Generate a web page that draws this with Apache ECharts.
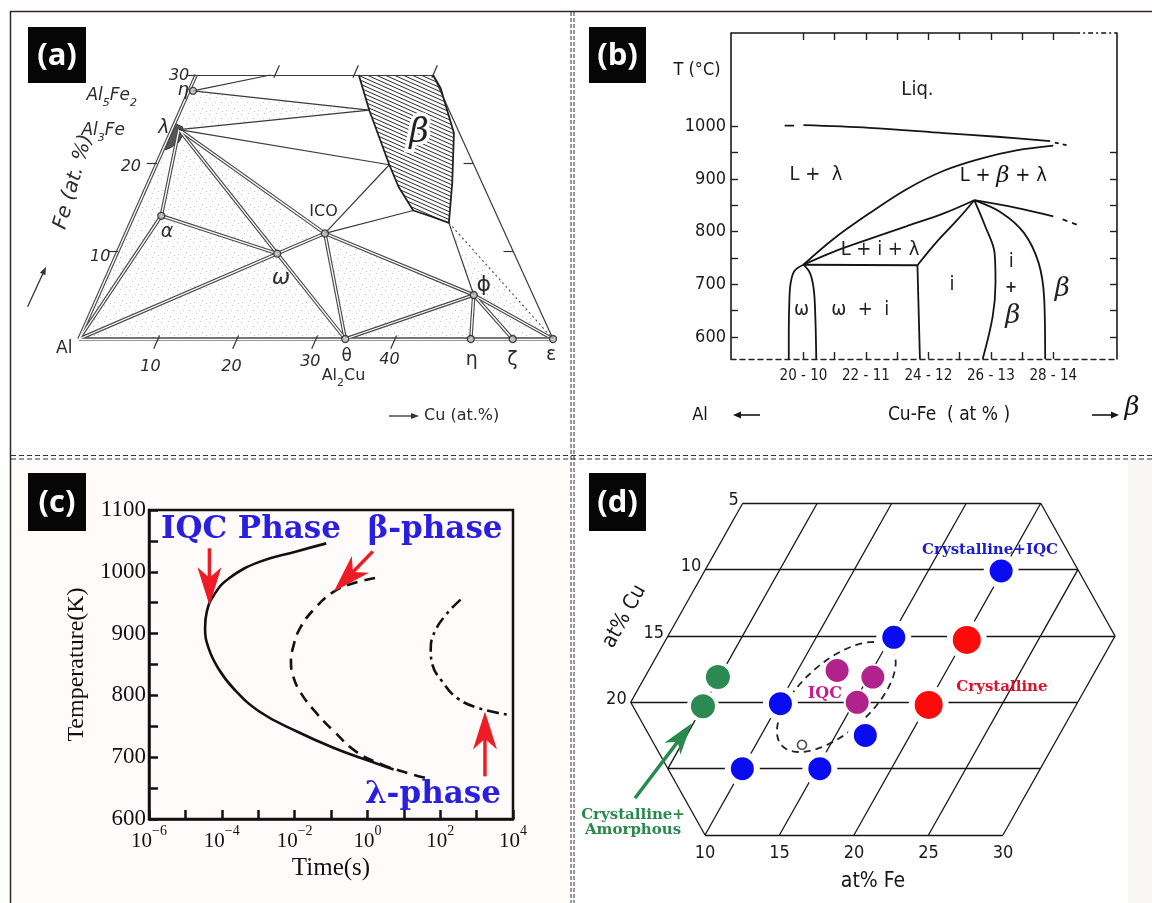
<!DOCTYPE html>
<html>
<head>
<meta charset="utf-8">
<script src="https://cdn.jsdelivr.net/npm/echarts@6.0.0/dist/echarts.min.js"></script>
<style>
html,body{margin:0;padding:0;background:#ffffff;}
#chart{width:1152px;height:903px;}
</style>
</head>
<body>
<div id="chart"></div>
<script>
// ======================= DATA =======================
// ---- Panel (a): Al-Cu-Fe partial section, compositions [Cu at.%, Fe at.%]
const aFrame = {Al:[0,0], feTop:[0,30], cuTop:[30,30], eps:[60,0]};
const aPhase = {eta1:[0.5,28.2], lam:[0.9,23.8], lamLow:[0.4,21.5], alpha:[3.5,14.0], omega:[20.3,9.7],
                ico:[25.2,12.0], theta:[33.7,0], phi:[47.5,5.0], eta2:[49.6,0], zeta:[54.9,0], topMark:[9.4,30]};
const aBetaPts = {B2:[23.9,26.0], B3:[29.5,19.8], B5:[35.1,14.6], B7:[40.3,13.2]};
const aBetaField = [[20.6,30],[23.9,26.0],[29.5,19.8],[31.9,17.3],[35.1,14.6],[37.8,13.9],[40.3,13.2],[38.5,17.7],[35.9,23.4],[31.7,28.5],[30,30]];
const aLambdaField = [[0.0,24.5],[1.2,24.1],[1.7,23.3],[1.6,22.4],[0.8,21.7],[0.3,21.5]];
const aDoubleTies = [['Al','feTop'],['Al','eps'],['Al','alpha'],['alpha','lam'],['lam','omega'],['lam','ico'],
  ['alpha','omega'],['Al','omega'],['omega','ico'],['omega','theta'],['ico','theta'],['ico','phi'],
  ['theta','phi'],['phi','eta2'],['phi','zeta'],['phi','eps']];
const aSingleTies = [['feTop','cuTop'],['cuTop','eps'],['eta1','topMark'],['eta1','B2'],['lam','B2'],['lam','B3'],
  ['ico','B3'],['ico','B5'],['phi','B7']];
const aDottedTies = [['B7','eps']];
const aStippled = [['Al','alpha','omega'],['Al','omega','theta'],['Al','lamLow','alpha'],['lam','alpha','omega'],
  ['lam','omega','ico'],['eta1','B2','lam'],['ico','theta','phi'],['theta','phi','eta2'],['phi','zeta','eps'],['phi','B7','eps']];
const aCuTicks = [10,20,30,40];
const aFeTicks = [10,20,30];
const aTopTicks = [10,20,30];
const aRightTicks = [10,20];
const aMarked = ['eta1','alpha','omega','ico','theta','phi','eta2','zeta','eps'];

// ---- Panel (b): vertical section, x = Cu at.% (Fe = Cu/2), y = T (°C)
const bCuTicks = [20,21,22,23,24,25,26,27,28];
const bCuLabels = [20,22,24,26,28];
const bTTicksLeft = [600,650,700,750,800,850,900,950,1000];
const bTTicksRight = [600,650,700,750,800,850,900,950];
const bTLabels = [600,700,800,900,1000];
const bLiqUpper = [[20.0,1002],[22.1,997],[24.5,987],[26.2,980],[27.9,971.5]];
const bLiqUpperDashL = [[19.4,1001],[19.7,1001.3]];
const bLiqUpperDashR = [[28.05,969],[28.5,963]];
const bLiqLower = [[20.0,737],[20.94,785],[22.12,835],[23.29,880],[24.47,915],[25.65,938],[26.82,954],[28.0,963]];
const bL3Upper = [[20.0,737],[20.94,761],[22.12,786],[23.29,810],[24.47,834],[25.47,859.5]];
const bPeakRight = [[25.47,859.5],[26.82,845],[28.0,829]];
const bPeakRightDash = [[28.3,823],[28.9,810]];
const bPeakLeft = [[25.47,859.5],[24.94,823],[24.24,778.5],[23.65,736]];
const bL3Lower = [[20.0,737],[23.65,736]];
const bIBound = [[23.65,736],[23.73,558]];
const bOmegaLeft = [[20.0,737],[19.71,725],[19.59,702],[19.55,671],[19.53,608],[19.53,558]];
const bOmegaRight = [[20.0,737],[20.21,721],[20.33,690],[20.38,639],[20.41,558]];
const bIBetaLeft = [[25.47,859.5],[25.82,810],[26.12,759.5],[26.15,702.5],[26.06,639],[25.74,558]];
const bIBetaRight = [[25.47,859.5],[26.35,835.4],[27.06,797.5],[27.53,740.5],[27.71,671],[27.74,558]];

// ---- Panel (c): TTT curves, x = log10(time / s), y = T (K)
const cIqcLogT  = [-1.13,-1.95,-2.97,-3.79,-4.21,-4.41,-4.46,-4.36,-4.10,-3.69,-2.97,-1.95,-0.92,0.10,0.72];
const cIqcT     = [1046,1033,1016,990,963,936,909,876,844,812,774,742,715,693,680];
const cBetaLogT = [0.21,-0.41,-0.92,-1.44,-1.85,-2.05,-2.10,-2.05,-1.85,-1.44,-0.92,-0.31,0.41,1.13,1.64];
const cBetaT    = [990,981,968,941,909,876,855,833,806,774,742,709,688,674,666];
const cLamLogT  = [2.56,2.15,1.85,1.74,1.79,2.05,2.46,3.08,3.85];
const cLamT     = [955,930,903,876,849,823,796,779,769];

// ---- Panel (d): composition map, points [Fe at.%, Cu at.%]
const dHexagon = [[0,5],[20,5],[30,15],[30,30],[10,30],[0,20]];
const dCuLevels = [10,15,20,25];
const dFeLevels = [5,10,15,20,25];
const dCuLabels = [5,10,15,20];
const dFeLabels = [10,15,20,25,30];
const dBlue  = [[19.9,10.1],[15.2,15.1],[10.1,20.1],[17.0,22.5],[10.0,25.0],[15.2,25.0]];
const dRed   = [[20.2,15.3],[20.1,20.2]];
const dMag   = [[12.65,17.6],[15.3,18.1],[15.2,20.0]];
const dGreen = [[4.9,18.1],[5.0,20.3]];
const dOpen  = [[13.1,23.2]];
const dIqcRegionCenter = [13.6,19.6];

// ======================= HELPERS =======================
const SANS = '"DejaVu Sans","Liberation Sans",sans-serif';
const NARROW = '"Liberation Sans Narrow","DejaVu Sans Condensed","DejaVu Sans",sans-serif';
const SERIF = '"Liberation Serif","DejaVu Serif",serif';
const BSERIF = '"DejaVu Serif","Liberation Serif",serif';
const deg = Math.PI / 180;

const aXY = p => [p[0] + 0.494 * p[1], p[1]];
const dXY = p => [p[0] + 0.5013 * (30 - p[1]), p[1]];
const idXY = p => p;
const aPt = n => Array.isArray(n) ? n : (aFrame[n] || aPhase[n] || aBetaPts[n]);
const zip = (xs, ys) => xs.map((x, i) => [x, ys[i]]);

function makeHatch() {
  const w = 9, h = 4, c = document.createElement('canvas');
  c.width = w; c.height = h;
  const g = c.getContext('2d');
  g.strokeStyle = '#2a2a2a'; g.lineWidth = 1;
  for (let j = -1; j <= 1; j++) { g.beginPath(); g.moveTo(0, j * h); g.lineTo(w, j * h + h); g.stroke(); }
  return c;
}
function makeStipple() {
  const c = document.createElement('canvas');
  c.width = 16; c.height = 16;
  const g = c.getContext('2d');
  g.fillStyle = 'rgba(90,90,90,0.38)';
  [[1,2],[8,1],[13,6],[4,9],[10,12],[2,14],[14,15],[7,6]].forEach(([x, y]) => g.fillRect(x, y, 1, 1));
  return c;
}
const HATCH = {image: makeHatch(), repeat: 'repeat'};
const STIPPLE = {image: makeStipple(), repeat: 'repeat'};

function linesSeries(xi, yi, data, lineStyle, z) {
  return {type: 'lines', coordinateSystem: 'cartesian2d', xAxisIndex: xi, yAxisIndex: yi, data: data,
    lineStyle: Object.assign({opacity: 1, curveness: 0}, lineStyle), z: z, silent: true, clip: false,
    symbol: 'none', animation: false};
}
function tieData(pairs) { return pairs.map(([p, q]) => ({coords: [aXY(aPt(p)), aXY(aPt(q))]})); }

function polySeries(xi, yi, polys, style, z) {
  return {type: 'custom', xAxisIndex: xi, yAxisIndex: yi, clip: false, silent: true, z: z,
    data: polys.map(p => p[0]),
    renderItem(params, api) {
      const poly = polys[params.dataIndex];
      return {type: 'polygon', shape: {points: poly.map(q => api.coord(q))}, style: style};
    }};
}
function textSeries(xi, yi, items, tf, z) {
  return {type: 'custom', xAxisIndex: xi, yAxisIndex: yi, clip: false, silent: true, z: z || 10,
    data: items.map(it => tf(it.at)),
    renderItem(params, api) {
      const it = items[params.dataIndex];
      const p = api.coord([api.value(0), api.value(1)]);
      const st = {text: it.text, font: it.font, fill: it.color || '#222',
        textAlign: it.align || 'center', textVerticalAlign: it.va || 'middle',
        align: it.align || 'center', verticalAlign: it.va || 'middle'};
      if (it.rich) st.rich = it.rich;
      if (it.stroke) { st.stroke = it.stroke; st.lineWidth = it.sw || 3; }
      return {type: 'text', x: p[0] + (it.dx || 0), y: p[1] + (it.dy || 0), rotation: it.rot || 0, style: st};
    }};
}
function arrowSeries(xi, yi, arrows, tf, z) {
  return {type: 'custom', xAxisIndex: xi, yAxisIndex: yi, clip: false, silent: true, z: z || 12,
    data: arrows.map(a => tf(a.to)),
    renderItem(params, api) {
      const a = arrows[params.dataIndex];
      const p1 = api.coord(tf(a.from)), p2 = api.coord(tf(a.to));
      const dx = p2[0] - p1[0], dy = p2[1] - p1[1], L = Math.hypot(dx, dy);
      const ux = dx / L, uy = dy / L, nx = -uy, ny = ux;
      const bx = p2[0] - ux * a.head, by = p2[1] - uy * a.head;
      const kx = p2[0] - ux * a.head * 0.72, ky = p2[1] - uy * a.head * 0.72;
      return {type: 'group', children: [
        {type: 'line', shape: {x1: p1[0], y1: p1[1], x2: kx, y2: ky}, style: {stroke: a.color, lineWidth: a.width}},
        {type: 'polygon', shape: {points: [p2, [bx + nx * a.headW, by + ny * a.headW], [kx, ky], [bx - nx * a.headW, by - ny * a.headW]]},
          style: {fill: a.color}}
      ]};
    }};
}
function gArrow(x1, y1, x2, y2, color, lw, hl, hw) {
  const dx = x2 - x1, dy = y2 - y1, L = Math.hypot(dx, dy), ux = dx / L, uy = dy / L, nx = -uy, ny = ux;
  const bx = x2 - ux * hl, by = y2 - uy * hl;
  return {type: 'group', children: [
    {type: 'line', shape: {x1: x1, y1: y1, x2: bx + ux * 2, y2: by + uy * 2}, style: {stroke: color, lineWidth: lw}},
    {type: 'polygon', shape: {points: [[x2, y2], [bx + nx * hw, by + ny * hw], [bx - nx * hw, by - ny * hw]]}, style: {fill: color}}
  ]};
}
function gText(x, y, text, font, color, rot, align) {
  return {type: 'text', x: x, y: y, rotation: rot || 0,
    style: {text: text, font: font, fill: color || '#222', textAlign: align || 'center', textVerticalAlign: 'middle',
      align: align || 'center', verticalAlign: 'middle'}};
}
function labelBox(x, y, w, h, t) {
  return {type: 'group', z: 100, children: [
    {type: 'rect', shape: {x: x, y: y, width: w, height: h}, style: {fill: '#060606'}},
    {type: 'text', x: x + w / 2, y: y + h / 2 + 1,
      style: {text: t, fill: '#ffffff', font: 'bold 31px "Open Sans","DejaVu Sans",sans-serif',
        textAlign: 'center', textVerticalAlign: 'middle', align: 'center', verticalAlign: 'middle'}}
  ]};
}

// ======================= SERIES =======================
const series = [];
const INK = '#2b2b2b';

// ---------- (a) ----------
series.push(polySeries(0, 0, aStippled.map(tri => tri.map(n => aXY(aPt(n)))), {fill: STIPPLE, stroke: null}, 1));
series.push(polySeries(0, 0, [aBetaField.map(aXY)], {fill: HATCH, stroke: null}, 2));
series.push(polySeries(0, 0, [aLambdaField.map(aXY)], {fill: '#555', stroke: '#333', lineWidth: 1}, 2));
series.push(linesSeries(0, 0, tieData(aDoubleTies), {color: '#4a4a4a', width: 3.6}, 3));
series.push(linesSeries(0, 0, tieData(aDoubleTies), {color: '#ffffff', width: 1.3}, 4));
series.push(linesSeries(0, 0, tieData(aSingleTies), {color: '#3a3a3a', width: 1.2}, 5));
series.push(linesSeries(0, 0, tieData(aDottedTies), {color: '#555', width: 1.2, type: [2, 3]}, 5));
series.push({type: 'line', xAxisIndex: 0, yAxisIndex: 0, data: aBetaField.map(aXY), showSymbol: false, symbol: 'none',
  lineStyle: {color: '#222', width: 1.8}, z: 6, silent: true, clip: false, animation: false});
// axis tick marks on the frame
const aTickSegs = [].concat(
  aCuTicks.map(c => ({coords: [aXY([c, 0.4]), aXY([c, -1.1])]})),
  aTopTicks.map(c => ({coords: [aXY([c, 29.7]), aXY([c, 31.1])]})),
  aFeTicks.map(f => ({coords: [aXY([0, f]), aXY([-1.3, f])]})),
  aRightTicks.map(f => ({coords: [aXY([60 - f, f]), aXY([60 - f - 1.2, f])]}))
);
series.push(linesSeries(0, 0, aTickSegs, {color: '#333', width: 1.2}, 5));
series.push({type: 'scatter', xAxisIndex: 0, yAxisIndex: 0, data: aMarked.map(n => aXY(aPt(n))), symbol: 'circle', symbolSize: 7,
  itemStyle: {color: '#bdbdbd', borderColor: '#222', borderWidth: 1.3}, z: 7, silent: true, animation: false});
const aFontI = s => 'italic ' + s + 'px ' + SANS;
const aRichSub = {n: {font: aFontI(17), fill: INK, lineHeight: 22, verticalAlign: 'top'},
                  s: {font: aFontI(11), fill: INK, lineHeight: 11, verticalAlign: 'bottom'}};
const aLabels = [
  {at: [-9.4, 27.4], text: '{n|Al}{s|5}{n|Fe}{s|2}', rich: aRichSub, font: aFontI(17)},
  {at: [-0.8, 28.3], text: 'η', font: aFontI(18), color: INK},
  {at: [-8.5, 23.4], text: '{n|Al}{s|3}{n|Fe}', rich: aRichSub, font: aFontI(17)},
  {at: [-1.1, 24.0], text: 'λ', font: aFontI(19), color: INK},
  {at: [-2.1, 29.9], text: '30', font: aFontI(16), color: INK},
  {at: [-3.1, 19.55], text: '20', font: aFontI(16), color: INK},
  {at: [-1.9, 9.3], text: '10', font: aFontI(16), color: INK},
  {at: [5.1, 12.2], text: 'α', font: aFontI(19), color: INK},
  {at: [22.15, 6.93], text: 'ω', font: aFontI(22), color: INK},
  {at: [23.8, 14.5], text: 'ICO', font: '16px ' + SANS, color: INK},
  {at: [48.2, 6.14], text: 'ϕ', font: '22px ' + SANS, color: INK},
  {at: [31.5, 23.4], text: 'β', font: 'italic 34px ' + BSERIF, color: '#222', stroke: '#ffffff', sw: 7},
  {at: [-1.34, -1.06], text: 'Al', font: '17px ' + SANS, color: INK},
  {at: [10.6, -3.15], text: '10', font: aFontI(16), color: INK},
  {at: [20.85, -3.15], text: '20', font: aFontI(16), color: INK},
  {at: [30.56, -2.58], text: '30', font: aFontI(16), color: INK},
  {at: [40.47, -2.39], text: '40', font: aFontI(16), color: INK},
  {at: [34.9, -2.05], text: 'θ', font: '17px ' + SANS, color: INK},
  {at: [50.9, -2.39], text: 'η', font: '19px ' + SANS, color: INK},
  {at: [56.05, -2.39], text: 'ζ', font: '19px ' + SANS, color: INK},
  {at: [60.65, -1.82], text: 'ε', font: '19px ' + SANS, color: INK},
  {at: [35.67, -4.43], text: '{n|Al}{s|2}{n|Cu}', rich: {n: {font: '16px ' + SANS, fill: INK, lineHeight: 21, verticalAlign: 'top'}, s: {font: '11px ' + SANS, fill: INK, lineHeight: 11, verticalAlign: 'bottom'}}, font: '16px ' + SANS}
];
series.push(textSeries(0, 0, aLabels, aXY, 10));

// ---------- (b) ----------
const bLine = (data, style, smooth) => ({type: 'line', xAxisIndex: 1, yAxisIndex: 1, data: data, showSymbol: false, symbol: 'none',
  smooth: smooth === undefined ? 0.35 : smooth, lineStyle: Object.assign({color: '#151515', width: 1.8}, style), z: 4, silent: true, clip: false, animation: false});
series.push(bLine(bLiqUpper, {}));
series.push(bLine(bLiqUpperDashL, {}, false));
series.push(bLine(bLiqUpperDashR, {type: [4, 4]}, false));
series.push(bLine(bLiqLower, {}));
series.push(bLine(bL3Upper, {}));
series.push(bLine(bPeakRight, {}));
series.push(bLine(bPeakRightDash, {type: [5, 5]}, false));
series.push(bLine(bPeakLeft, {}));
series.push(bLine(bL3Lower, {}, false));
series.push(bLine(bIBound, {}, false));
series.push(bLine(bOmegaLeft, {}));
series.push(bLine(bOmegaRight, {}));
series.push(bLine(bIBetaLeft, {}));
series.push(bLine(bIBetaRight, {}));
// top frame border: solid then dash-dot near the right corner
const bXMin = 17.68, bXMax = 30.04, bYMin = 558, bYMax = 1177;
series.push(bLine([[bXMin, bYMax], [28.7, bYMax]], {width: 1.5}, false));
series.push(bLine([[28.7, bYMax], [bXMax, bYMax]], {width: 1.5, type: [5, 3, 2, 3]}, false));
const bF = s => s + 'px ' + NARROW;
const bRich = {n: {font: bF(20), fill: '#151515'}, g: {font: 'italic 23px ' + BSERIF, fill: '#151515'}};
const bLabels = [
  {at: [23.65, 1070], text: 'Liq.', font: bF(20)},
  {at: [20.4, 908], text: 'L +  λ', font: bF(20)},
  {at: [26.4, 905], text: '{n|L + }{g|β}{n| + λ}', rich: bRich, font: bF(20)},
  {at: [22.45, 766], text: 'L + i + λ', font: bF(20)},
  {at: [19.94, 652], text: 'ω', font: bF(20)},
  {at: [21.82, 652], text: 'ω  +  i', font: bF(20)},
  {at: [24.76, 699], text: 'i', font: bF(20)},
  {at: [26.65, 743], text: 'i', font: bF(20)},
  {at: [26.65, 693], text: '+', font: 'bold ' + bF(16)},
  {at: [26.7, 639], text: 'β', font: 'italic 26px ' + BSERIF},
  {at: [28.29, 690], text: 'β', font: 'italic 26px ' + BSERIF}
];
series.push(textSeries(1, 1, bLabels, idXY, 10));

// ---------- (c) ----------
const cLine = (xs, ys, type) => ({type: 'line', xAxisIndex: 2, yAxisIndex: 2, data: zip(xs, ys), showSymbol: false, symbol: 'none',
  smooth: 0.45, lineStyle: {color: '#111', width: 2.6, type: type}, z: 4, silent: true, animation: false});
series.push(cLine(cIqcLogT, cIqcT, 'solid'));
series.push(cLine(cBetaLogT, cBetaT, [11, 7]));
series.push(cLine(cLamLogT, cLamT, [12, 5, 3, 5]));
const cBlue = '#2a1fe0', cRed = '#ee1c25';
const cFont = 'bold 31px ' + BSERIF;
series.push(textSeries(2, 2, [
  {at: [-3.2, 1068], text: 'IQC Phase', font: cFont, color: cBlue},
  {at: [1.86, 1068], text: 'β-phase', font: cFont, color: cBlue},
  {at: [1.8, 639], text: 'λ-phase', font: cFont, color: cBlue}
], idXY, 10));
series.push(arrowSeries(2, 2, [
  {from: [-4.34, 1038], to: [-4.34, 946], color: cRed, width: 3.5, head: 38, headW: 12},
  {from: [0.15, 1033], to: [-0.92, 968], color: cRed, width: 3.5, head: 38, headW: 12},
  {from: [3.23, 669], to: [3.23, 774], color: cRed, width: 3.5, head: 38, headW: 12}
], idXY, 12));

// ---------- (d) ----------
function dCuLine(c) { const fL = c <= 20 ? 0 : c - 20, fR = c <= 15 ? c + 15 : 30; return [[fL, c], [fR, c]]; }
function dFeLine(f) { const cT = f <= 20 ? 5 : f - 15, cB = f <= 10 ? f + 20 : 30; return [[f, cT], [f, cB]]; }
const dSegs = [].concat(
  dCuLevels.map(c => ({coords: dCuLine(c).map(dXY)})),
  dFeLevels.map(f => ({coords: dFeLine(f).map(dXY)})),
  dHexagon.map((p, i) => ({coords: [dXY(p), dXY(dHexagon[(i + 1) % dHexagon.length])]}))
);
series.push(linesSeries(3, 3, dSegs, {color: '#151515', width: 1.3}, 2));
series.push({type: 'custom', xAxisIndex: 3, yAxisIndex: 3, clip: false, silent: true, z: 3,
  data: [dXY(dIqcRegionCenter)],
  renderItem(params, api) {
    const c = api.coord([api.value(0), api.value(1)]);
    const a = 73, b = 35, th = 41.5 * deg, pts = [];
    for (let i = 0; i <= 90; i++) {
      const t = i / 90 * 2 * Math.PI, ex = a * Math.cos(t), ey = b * Math.sin(t);
      pts.push([c[0] + ex * Math.cos(th) + ey * Math.sin(th), c[1] - ex * Math.sin(th) + ey * Math.cos(th)]);
    }
    return {type: 'polyline', shape: {points: pts}, style: {fill: null, stroke: '#222', lineWidth: 1.8, lineDash: [7, 5]}};
  }});
const dDots = (data, color, size, bw) => ({type: 'scatter', xAxisIndex: 3, yAxisIndex: 3, data: data.map(dXY), symbol: 'circle',
  symbolSize: size, itemStyle: {color: color, borderColor: '#ffffff', borderWidth: bw, opacity: 1}, z: 6, silent: true, animation: false});
series.push(dDots(dBlue, '#0b0bf2', 29, 6));
series.push(dDots(dRed, '#ff0a0a', 34, 6));
series.push(dDots(dMag, '#b0228c', 25, 2));
series.push(dDots(dGreen, '#2a8a52', 28, 4));
series.push({type: 'scatter', xAxisIndex: 3, yAxisIndex: 3, data: dOpen.map(dXY), symbol: 'circle', symbolSize: 9,
  itemStyle: {color: '#fff', borderColor: '#222', borderWidth: 1.6}, z: 6, silent: true, animation: false});
const dNum = '18px ' + NARROW;
const dLabels = [].concat(
  dCuLabels.map(c => ({at: [0, c], text: String(c), font: dNum, align: 'right', dx: -4, dy: -3, color: '#1a1a1a'})),
  dFeLabels.map(f => ({at: [f, 30], text: String(f), font: dNum, dy: 18, color: '#1a1a1a'})),
  [
    {at: [18.36, 8.52], text: 'Crystalline+IQC', font: 'bold 15px ' + BSERIF, color: '#1c1cd0'},
    {at: [12.72, 19.37], text: 'IQC', font: 'bold 16px ' + BSERIF, color: '#c21f8f'},
    {at: [24.34, 18.85], text: 'Crystalline', font: 'bold 15px ' + BSERIF, color: '#e0102a'},
    {at: [4.72, 29.1], text: 'Crystalline+\nAmorphous', font: 'bold 15px ' + BSERIF, color: '#2a8a4e'}
  ]
);
series.push(textSeries(3, 3, dLabels, dXY, 10));
series.push(arrowSeries(3, 3, [
  {from: [3.91, 27.23], to: [4.89, 21.58], color: '#2a8a4e', width: 3.5, head: 32, headW: 10}
], dXY, 12));

// ======================= OPTION =======================
const cTimeLabel = v => {
  if (Math.abs(v % 2) !== 0) return '';
  const e = v === 0 ? '0' : (v < 0 ? '−' + (-v) : String(v));
  return '{b|10}{e|' + e + '}';
};
const option = {
  animation: false,
  backgroundColor: '#ffffff',
  grid: [
    {left: 79, top: 75, width: 474, height: 264},
    {left: 731, top: 33, width: 386, height: 326},
    {left: 149, top: 510, width: 364, height: 309, show: true, borderColor: '#111', borderWidth: 2.5, backgroundColor: 'transparent'},
    {left: 556, top: 503.25, width: 596, height: 331.75}
  ],
  xAxis: [
    {gridIndex: 0, type: 'value', min: 0, max: 60, show: false},
    {gridIndex: 1, type: 'value', min: bXMin, max: bXMax, position: 'bottom',
      axisLine: {show: true, onZero: false, lineStyle: {color: '#222', width: 1.4, type: [5, 4]}},
      axisTick: {show: true, inside: true, length: 7, customValues: bCuTicks, lineStyle: {color: '#222', width: 1.4}},
      axisLabel: {show: true, customValues: bCuLabels, formatter: v => v + ' - ' + (v / 2), fontFamily: NARROW, fontSize: 15, color: '#1a1a1a', margin: 10},
      splitLine: {show: false}},
    {gridIndex: 2, type: 'value', min: -6, max: 4, interval: 1,
      axisLine: {show: true, onZero: false, lineStyle: {color: '#111', width: 2.5}},
      axisTick: {show: true, inside: true, length: 9, lineStyle: {color: '#111', width: 2.5}},
      axisLabel: {show: true, margin: 5, formatter: cTimeLabel,
        rich: {b: {fontFamily: SERIF, fontSize: 21, color: '#111', lineHeight: 28, verticalAlign: 'bottom'},
               e: {fontFamily: SERIF, fontSize: 14, color: '#111', lineHeight: 14, verticalAlign: 'top'}}},
      splitLine: {show: false},
      name: 'Time(s)', nameLocation: 'middle', nameGap: 37, nameTextStyle: {fontFamily: SERIF, fontSize: 25, color: '#111'}},
    {gridIndex: 3, type: 'value', min: 0, max: 40, show: false},
    {gridIndex: 1, type: 'value', min: bXMin, max: bXMax, position: 'top',
      axisLine: {show: false}, axisTick: {show: true, inside: true, length: 7, customValues: bCuTicks, lineStyle: {color: '#222', width: 1.4}},
      axisLabel: {show: false}, splitLine: {show: false}}
  ],
  yAxis: [
    {gridIndex: 0, type: 'value', min: 0, max: 30, show: false},
    {gridIndex: 1, type: 'value', min: bYMin, max: bYMax,
      axisLine: {show: true, onZero: false, lineStyle: {color: '#1a1a1a', width: 1.6}},
      axisTick: {show: true, inside: true, length: 7, customValues: bTTicksLeft, lineStyle: {color: '#222', width: 1.4}},
      axisLabel: {show: true, customValues: bTLabels, formatter: v => String(v), fontFamily: NARROW, fontSize: 18, color: '#1a1a1a', margin: 5},
      splitLine: {show: false}},
    {gridIndex: 2, type: 'value', min: 600, max: 1100, interval: 50,
      axisLine: {show: true, onZero: false, lineStyle: {color: '#111', width: 2.5}},
      axisTick: {show: true, inside: true, length: 9, lineStyle: {color: '#111', width: 2.5}},
      axisLabel: {show: true, margin: 3, formatter: v => (v % 100 === 0 ? String(v) : ''), fontFamily: SERIF, fontSize: 23, color: '#111'},
      splitLine: {show: false},
      name: 'Temperature(K)', nameLocation: 'middle', nameGap: 60, nameRotate: 90,
      nameTextStyle: {fontFamily: SERIF, fontSize: 24, color: '#111'}},
    {gridIndex: 3, type: 'value', min: 5, max: 30, inverse: true, show: false},
    {gridIndex: 1, type: 'value', min: bYMin, max: bYMax, position: 'right',
      axisLine: {show: true, onZero: false, lineStyle: {color: '#1a1a1a', width: 1.6}},
      axisTick: {show: true, inside: true, length: 7, customValues: bTTicksRight, lineStyle: {color: '#222', width: 1.4}},
      axisLabel: {show: false}, splitLine: {show: false}}
  ],
  graphic: [
    {type: 'rect', z: -1, shape: {x: 11, y: 460, width: 560, height: 443}, style: {fill: '#fefbfa'}, silent: true},
    {type: 'rect', z: -1, shape: {x: 1128, y: 460, width: 24, height: 443}, style: {fill: '#f9f7f6'}, silent: true},
    {type: 'line', shape: {x1: 10, y1: 11.5, x2: 1152, y2: 11.5}, style: {stroke: '#3a2626', lineWidth: 1.5}},
    {type: 'line', shape: {x1: 10.5, y1: 11, x2: 10.5, y2: 903}, style: {stroke: '#2a2a2a', lineWidth: 1.5}},
    {type: 'line', shape: {x1: 571, y1: 12, x2: 571, y2: 903}, style: {stroke: '#333', lineWidth: 1, lineDash: [4, 2]}},
    {type: 'line', shape: {x1: 574, y1: 12, x2: 574, y2: 903}, style: {stroke: '#333', lineWidth: 1, lineDash: [4, 2]}},
    {type: 'line', shape: {x1: 11, y1: 455.5, x2: 1152, y2: 455.5}, style: {stroke: '#333', lineWidth: 1, lineDash: [5, 3]}},
    {type: 'line', shape: {x1: 11, y1: 459, x2: 1152, y2: 459}, style: {stroke: '#333', lineWidth: 1, lineDash: [5, 3]}},
    labelBox(28, 27, 58, 56, '(a)'),
    labelBox(589, 27, 57, 56, '(b)'),
    labelBox(28, 473, 58, 58, '(c)'),
    labelBox(589, 473, 57, 58, '(d)'),
    // (a) axis titles
    gText(73.5, 182, 'Fe (at. %)', 'italic 20px ' + SANS, INK, 74 * deg),
    gArrow(27.6, 306.7, 46, 266.7, '#333', 1.3, 8, 3),
    gArrow(389, 416, 419, 416, '#333', 1.3, 8, 3),
    gText(424, 416, 'Cu (at.%)', '16px ' + SANS, INK, 0, 'left'),
    // (b) axis titles
    gText(697, 70, 'T (°C)', '18px ' + NARROW, '#151515'),
    gText(700, 415, 'Al', '18px ' + NARROW, '#151515'),
    gArrow(760, 415, 733, 415, '#151515', 1.6, 8, 3.5),
    gText(949, 415, 'Cu-Fe  ( at % )', '19px ' + NARROW, '#151515'),
    gArrow(1092, 415, 1119, 415, '#151515', 1.6, 8, 3.5),
    gText(1132, 408, 'β', 'italic 26px ' + BSERIF, '#151515'),
    // (d) axis titles
    gText(624.6, 616.5, 'at% Cu', '21px ' + NARROW, '#151515', 61 * deg),
    gText(873, 882, 'at% Fe', '21px ' + NARROW, '#151515')
  ],
  series: series
};
const chart = echarts.init(document.getElementById('chart'), null, {renderer: 'canvas', width: 1152, height: 903});
chart.setOption(option);
</script>
</body>
</html>
